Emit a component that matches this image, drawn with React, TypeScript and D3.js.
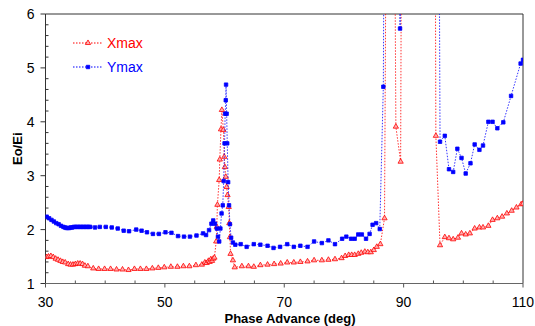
import { useEffect, useRef } from "react"
import * as d3 from "d3"

// Xmax (red) : [phase advance deg, Eo/Ei]
const xmaxData: [number, number][] = [
  [30.2, 1.49], [30.5, 1.5], [30.9, 1.51], [31.3, 1.49], [31.7, 1.46], [32.1, 1.44], [32.5, 1.42],
  [32.9, 1.4], [33.3, 1.39], [33.8, 1.36], [34.2, 1.35], [34.6, 1.35], [35.0, 1.36], [35.4, 1.37],
  [35.8, 1.37], [36.2, 1.36], [36.6, 1.33], [37.1, 1.32], [38.0, 1.28], [38.9, 1.27], [39.9, 1.27],
  [40.9, 1.27], [41.9, 1.26], [42.9, 1.26], [43.9, 1.25], [44.9, 1.27], [45.9, 1.27], [46.9, 1.27],
  [47.9, 1.28], [48.9, 1.29], [49.9, 1.3], [51.0, 1.31], [52.1, 1.31], [53.1, 1.32], [54.1, 1.32],
  [55.2, 1.34], [56.2, 1.35], [56.7, 1.39], [57.0, 1.38], [57.3, 1.42], [57.5, 1.4], [57.7, 1.45],
  [57.9, 1.42], [58.1, 1.46], [58.3, 1.48], [58.6, 1.78], [58.7, 2.05], [58.8, 2.46], [59.1, 2.92],
  [59.2, 3.3], [59.4, 3.86], [59.55, 4.22], [59.8, 3.85], [59.95, 3.35], [60.05, 3.16], [60.2, 2.98],
  [60.35, 2.79], [60.5, 2.64], [60.7, 2.42], [60.8, 2.12], [60.9, 1.86], [61.0, 1.55], [61.4, 1.43],
  [61.7, 1.3], [62.9, 1.32], [64.0, 1.32], [64.9, 1.31], [66.0, 1.34], [67.2, 1.35], [68.3, 1.36],
  [69.4, 1.37], [70.5, 1.39], [71.6, 1.39], [72.7, 1.4], [73.9, 1.41], [75.0, 1.43], [76.3, 1.43],
  [77.4, 1.44], [78.5, 1.45], [79.6, 1.47], [80.2, 1.51], [80.8, 1.53], [81.3, 1.53], [81.8, 1.53],
  [82.4, 1.55], [82.9, 1.57], [83.5, 1.59], [84.0, 1.58], [84.5, 1.58], [85.0, 1.62], [85.5, 1.68],
  [86.1, 1.73], [86.8, 2.21], [87.4, 15], [88.2, 14], [88.7, 3.91], [89.5, 3.26], [90.0, 20],
  [95.0, 20], [95.4, 3.74], [96.1, 1.71], [96.9, 1.86], [97.6, 1.84], [98.3, 1.82], [99.1, 1.85],
  [99.7, 1.93], [100.4, 1.91], [101.1, 1.93], [101.9, 2.02], [102.7, 2.04], [103.3, 2.04],
  [104.2, 2.07], [104.9, 2.18], [105.7, 2.21], [106.5, 2.24], [107.3, 2.3], [108.1, 2.35],
  [108.9, 2.41], [109.7, 2.47], [110.0, 2.48],
]

// Ymax (blue)
const ymaxData: [number, number][] = [
  [30.2, 2.24], [30.6, 2.21], [31.0, 2.18], [31.4, 2.15], [31.8, 2.12], [32.2, 2.1], [32.6, 2.07],
  [33.0, 2.05], [33.25, 2.04], [33.5, 2.03], [33.75, 2.03], [34.0, 2.03], [34.25, 2.04], [34.5, 2.04],
  [34.75, 2.05], [35.0, 2.05], [35.25, 2.05], [35.5, 2.05], [35.75, 2.05], [36.0, 2.05], [36.25, 2.05],
  [36.5, 2.05], [36.75, 2.05], [37.0, 2.05], [37.25, 2.05], [37.5, 2.05], [38.3, 2.04], [39.1, 2.05],
  [40.1, 2.05], [41.1, 2.04], [42.1, 2.02], [43.1, 1.98], [44.0, 1.97], [45.2, 2.0], [46.1, 1.98],
  [47.0, 1.95], [48.0, 1.92], [49.0, 1.92], [50.1, 1.95], [51.1, 1.94], [52.2, 1.88], [53.2, 1.87],
  [54.2, 1.87], [55.3, 1.89], [56.4, 1.93], [56.9, 1.9], [57.4, 1.99], [57.8, 2.11], [58.1, 2.17],
  [58.4, 2.11], [58.7, 2.02], [58.9, 1.87], [59.1, 1.78], [59.3, 2.02], [59.5, 2.3], [59.7, 2.45],
  [59.85, 2.9], [60.0, 3.6], [60.1, 4.15], [60.2, 4.4], [60.25, 4.69], [60.35, 4.15], [60.45, 3.6],
  [60.6, 2.88], [60.75, 2.45], [60.9, 2.1], [61.1, 1.85], [61.4, 1.76], [61.8, 1.72], [62.7, 1.73],
  [63.7, 1.68], [64.9, 1.73], [66.0, 1.72], [67.2, 1.7], [68.2, 1.66], [69.3, 1.68], [70.5, 1.73],
  [71.6, 1.68], [72.7, 1.7], [73.9, 1.68], [75.0, 1.78], [76.3, 1.75], [77.4, 1.8], [78.5, 1.73],
  [79.7, 1.83], [80.4, 1.87], [81.2, 1.83], [81.8, 1.83], [82.4, 1.91], [83.0, 1.91], [83.7, 1.83],
  [84.3, 1.92], [84.8, 2.09], [85.4, 2.12], [86.0, 2.01], [86.6, 4.65], [86.9, 12], [89.2, 12],
  [89.4, 5.73], [89.8, 12], [95.8, 12], [96.1, 3.63], [96.9, 3.74], [97.6, 3.12], [98.3, 3.07],
  [99.0, 3.5], [99.7, 3.33], [100.4, 3.04], [101.2, 3.23], [101.9, 3.58], [102.7, 3.48], [103.3, 3.56],
  [104.2, 4.0], [104.9, 4.0], [105.7, 3.88], [106.7, 3.99], [108.0, 4.48], [109.6, 5.08], [110.0, 5.15],
]

const xTickLabels = [30, 50, 70, 90, 110]
const yTickLabels = [1, 2, 3, 4, 5, 6]
const seriesNames = ["Xmax", "Ymax"]

export default function App() {
  const svgRef = useRef<SVGSVGElement>(null)

  useEffect(() => {
    if (!svgRef.current) return
    const svg = d3.select(svgRef.current)
    svg.selectAll("*").remove()

    const width = 535
    const height = 326
    const margin = { top: 14, right: 12, bottom: 42.5, left: 45.5 }
    const font = "'Liberation Sans', Arial, sans-serif"

    const x = d3.scaleLinear().domain([30, 110]).range([margin.left, width - margin.right])
    const y = d3.scaleLinear().domain([1, 6]).range([height - margin.bottom, margin.top])

    const [x0, x1] = x.range()
    const [y0, y1] = y.range()

    svg.append("defs").append("clipPath").attr("id", "plot-clip")
      .append("rect").attr("x", x0).attr("y", y1).attr("width", x1 - x0).attr("height", y0 - y1)

    // frame
    svg.append("line").attr("x1", x0).attr("x2", x1).attr("y1", y1).attr("y2", y1).attr("stroke", "#333")
    svg.append("line").attr("x1", x1).attr("x2", x1).attr("y1", y1).attr("y2", y0).attr("stroke", "#333")
    svg.append("line").attr("x1", x0).attr("x2", x0).attr("y1", y1).attr("y2", y0).attr("stroke", "#333")
    svg.append("line").attr("x1", x0).attr("x2", x1).attr("y1", y0).attr("y2", y0).attr("stroke", "#666")

    // y ticks
    d3.range(1, 6.01, 0.2).forEach((v) => {
      const major = Math.abs(v - Math.round(v)) < 1e-6
      svg.append("line")
        .attr("x1", major ? x0 - 5 : x0).attr("x2", major ? x0 : x0 + 3)
        .attr("y1", y(v)).attr("y2", y(v)).attr("stroke", "#333")
    })
    svg.selectAll("text.ytick").data(yTickLabels).join("text")
      .attr("class", "ytick")
      .attr("x", x0 - 11).attr("y", (d) => y(d) + 5)
      .attr("text-anchor", "end").attr("font-family", font).attr("font-size", 14)
      .text((d) => d)

    // x ticks
    d3.range(30, 110.01, 5).forEach((v) => {
      const major = xTickLabels.includes(v)
      svg.append("line")
        .attr("x1", x(v)).attr("x2", x(v))
        .attr("y1", major ? y0 : y0 - 3).attr("y2", major ? y0 + 4 : y0)
        .attr("stroke", "#555")
    })
    svg.selectAll("text.xtick").data(xTickLabels).join("text")
      .attr("class", "xtick")
      .attr("x", (d) => x(d)).attr("y", 307)
      .attr("text-anchor", "middle").attr("font-family", font).attr("font-size", 14)
      .text((d) => d)

    // axis titles
    svg.append("text").attr("x", 290).attr("y", 323)
      .attr("text-anchor", "middle").attr("font-family", font).attr("font-size", 13).attr("font-weight", "bold")
      .text("Phase Advance (deg)")
    svg.append("text").attr("transform", `translate(22, ${(y0 + y1) / 2}) rotate(-90)`)
      .attr("text-anchor", "middle").attr("font-family", font).attr("font-size", 13).attr("font-weight", "bold")
      .text("Eo/Ei")

    const line = d3.line<[number, number]>().x((d) => x(d[0])).y((d) => y(d[1]))
    const tri = d3.symbol().type(d3.symbolTriangle).size(12)
    const sq = d3.symbol().type(d3.symbolSquare).size(12)

    const series = [
      { name: seriesNames[0], data: xmaxData, color: "#ff0000", sym: tri, fill: "#ffb0b0" },
      { name: seriesNames[1], data: ymaxData, color: "#0000ff", sym: sq, fill: "#0000ff" },
    ]

    const plot = svg.append("g").attr("clip-path", "url(#plot-clip)")
    series.forEach((s) => {
      plot.append("path").attr("d", line(s.data)).attr("fill", "none")
        .attr("stroke", s.color).attr("stroke-width", 1).attr("stroke-dasharray", "1.5,1.5")
        .attr("opacity", 0.8)
      plot.selectAll(null).data(s.data.filter((d) => d[1] <= 6)).join("path")
        .attr("transform", (d) => `translate(${x(d[0])},${y(d[1])})`)
        .attr("d", s.sym())
        .attr("fill", s.fill).attr("stroke", s.color).attr("stroke-width", 0.8)
    })

    // legend
    series.forEach((s, i) => {
      const ly = 43 + i * 24
      svg.append("line").attr("x1", 73).attr("x2", 103).attr("y1", ly).attr("y2", ly)
        .attr("stroke", s.color).attr("stroke-dasharray", "1.5,1.5")
      svg.append("path").attr("transform", `translate(88,${ly})`).attr("d", s.sym())
        .attr("fill", s.fill).attr("stroke", s.color).attr("stroke-width", 0.8)
      svg.append("text").attr("x", 107).attr("y", ly + 5)
        .attr("font-family", font).attr("font-size", 14).attr("fill", s.color)
        .text(s.name)
    })
  }, [])

  return (
    <svg ref={svgRef} width={535} height={326}
      style={{ position: "absolute", left: 0, top: 0, background: "#fff" }} />
  )
}
